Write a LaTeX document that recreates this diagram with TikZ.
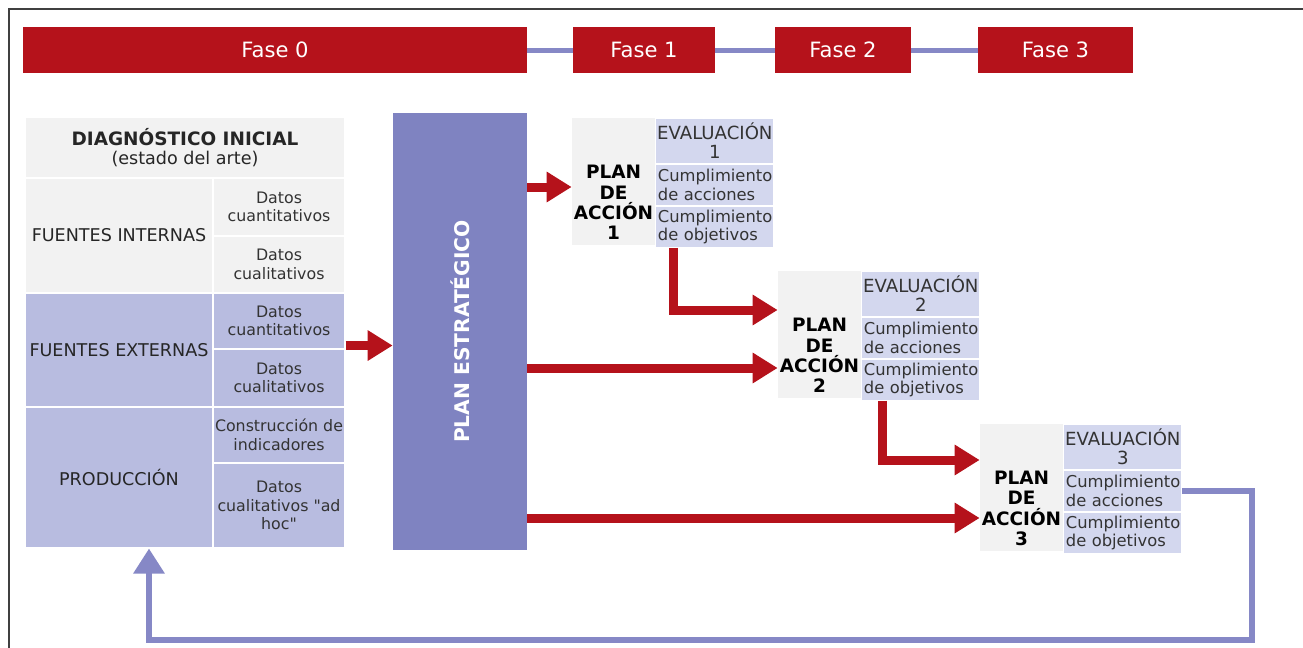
\documentclass[tikz,border=0pt]{standalone}
\usepackage{fontspec}
\setmainfont{DejaVu Sans}
\usepackage{xcolor}
\usetikzlibrary{positioning, arrows.meta}
\definecolor{faseRed}{HTML}{B5121B}
\definecolor{linkBlue}{HTML}{8688C6}
\definecolor{planBlue}{HTML}{7F83C1}
\definecolor{cellBlue}{HTML}{B8BCE0}
\definecolor{evalBlue}{HTML}{D3D7EE}
\definecolor{cellGray}{HTML}{F2F2F2}
\definecolor{textGray}{HTML}{333333}

\begin{document}
\begin{tikzpicture}[
    fase/.style={fill=faseRed, text=white, font=\fontsize{12}{14}\selectfont,
                 minimum height=0.92cm, inner sep=0pt},
    link/.style={draw=linkBlue, line width=0.1cm},
    cell/.style={draw=white, line width=0.6pt, inner sep=1pt, align=center,
                 text=textGray, font=\fontsize{9}{10.5}\selectfont},
    label/.style={cell, text=black!85, font=\fontsize{10}{12}\selectfont,
                  minimum width=3.76cm},
    datos/.style={cell, minimum width=2.64cm},
    paplan/.style={fill=cellGray, minimum width=1.66cm, minimum height=2.54cm, inner sep=0pt},
    patext/.style={align=center, font=\bfseries\fontsize{10.5}{11.5}\selectfont, inner sep=0pt},
    evtitle/.style={fill=evalBlue, draw=white, line width=0.6pt, align=center,
                    text=textGray, font=\fontsize{10.3}{10.5}\selectfont,
                    minimum width=2.36cm, minimum height=0.90cm, inner sep=0pt},
    evitem/.style={fill=evalBlue, draw=white, line width=0.6pt, align=left,
                   text=textGray, font=\fontsize{9.3}{10.5}\selectfont,
                   text width=2.28cm, inner xsep=0.04cm, inner ysep=0pt,
                   minimum height=0.82cm},
    redarrow/.style={draw=faseRed, line width=0.18cm, line join=miter,
                     -{Triangle[length=0.5cm, width=0.58cm]}},
    feedback/.style={draw=linkBlue, line width=0.12cm, line join=miter,
                     -{Triangle[length=0.5cm, width=0.6cm]}}
  ]
  \useasboundingbox (0,0) rectangle (26.06,-12.96);
  \draw[black!75, line width=0.8pt] (0.18,-12.96) -- (0.18,-0.18) -- (26.06,-0.18);

  % phases
  \node[fase, minimum width=10.08cm] (f0) at (5.50,-1.00) {Fase 0};
  \node[fase, minimum width=2.84cm] (f1) at (12.88,-1.00) {Fase 1};
  \node[fase, minimum width=2.72cm] (f2) at (16.86,-1.00) {Fase 2};
  \node[fase, minimum width=3.10cm] (f3) at (21.11,-1.00) {Fase 3};
  \draw[link] (f0) -- (f1);
  \draw[link] (f1) -- (f2);
  \draw[link] (f2) -- (f3);

  % initial diagnosis table
  \node[cell, fill=cellGray, minimum width=6.40cm, minimum height=1.22cm, text=black!85,
        font=\fontsize{10}{11}\selectfont] (diag) at (3.70,-2.95)
        {\textbf{\fontsize{10.5}{12}\selectfont DIAGNÓSTICO INICIAL}\\(estado del arte)};
  \node[label, fill=cellGray, minimum height=2.30cm] (intl) at (2.38,-4.71) {FUENTES INTERNAS};
  \node[datos, fill=cellGray, minimum height=1.16cm] (intq) at (5.58,-4.14) {Datos\\cuantitativos};
  \node[datos, fill=cellGray, minimum height=1.14cm] (intc) at (5.58,-5.29) {Datos\\cualitativos};
  \node[label, fill=cellBlue, minimum height=2.28cm] (extl) at (2.38,-7.00) {FUENTES EXTERNAS};
  \node[datos, fill=cellBlue, minimum height=1.12cm] (extq) at (5.58,-6.42) {Datos\\cuantitativos};
  \node[datos, fill=cellBlue, minimum height=1.16cm] (extc) at (5.58,-7.56) {Datos\\cualitativos};
  \node[label, fill=cellBlue, minimum height=2.82cm] (prodl) at (2.38,-9.55) {PRODUCCIÓN};
  \node[datos, fill=cellBlue, minimum height=1.12cm] (prodq) at (5.58,-8.70) {Construcción de\\indicadores};
  \node[datos, fill=cellBlue, minimum height=1.70cm] (prodc) at (5.58,-10.11)
        {Datos\\cualitativos \textquotedbl ad\\hoc\textquotedbl};

  % strategic plan (rotated: north is its left side, south its right side)
  \node[fill=planBlue, text=white, rotate=90, minimum width=8.74cm, minimum height=2.68cm,
        font=\bfseries\fontsize{11.5}{13}\selectfont] (plan) at (9.20,-6.63) {PLAN ESTRATÉGICO};

  % action plans with their evaluations
  \node[paplan] (pa1) at (12.27,-3.63) {};
  \node[patext] (pa1txt) at ([yshift=-0.42cm]pa1.center) {PLAN\\DE\\ACCIÓN\\1};
  \node[evtitle, anchor=north west] (ev1t) at (pa1.north east) {EVALUACIÓN\\1};
  \node[evitem, below=0pt of ev1t] (ev1a) {Cumplimiento\\de acciones};
  \node[evitem, below=0pt of ev1a] (ev1o) {Cumplimiento\\de objetivos};

  \node[paplan] (pa2) at (16.39,-6.69) {};
  \node[patext] (pa2txt) at ([yshift=-0.42cm]pa2.center) {PLAN\\DE\\ACCIÓN\\2};
  \node[evtitle, anchor=north west] (ev2t) at (pa2.north east) {EVALUACIÓN\\2};
  \node[evitem, below=0pt of ev2t] (ev2a) {Cumplimiento\\de acciones};
  \node[evitem, below=0pt of ev2a] (ev2o) {Cumplimiento\\de objetivos};

  \node[paplan] (pa3) at (20.43,-9.75) {};
  \node[patext] (pa3txt) at ([yshift=-0.42cm]pa3.center) {PLAN\\DE\\ACCIÓN\\3};
  \node[evtitle, anchor=north west] (ev3t) at (pa3.north east) {EVALUACIÓN\\3};
  \node[evitem, below=0pt of ev3t] (ev3a) {Cumplimiento\\de acciones};
  \node[evitem, below=0pt of ev3a] (ev3o) {Cumplimiento\\de objetivos};

  % arrows
  \coordinate (eA) at ([yshift=0.08cm]extq.south east);
  \draw[redarrow] (eA) -- (eA -| plan.north);
  \coordinate (t1) at ([yshift=-0.11cm]pa1.west);
  \coordinate (t2) at ([yshift=-0.67cm]pa2.west);
  \coordinate (t3) at ([yshift=-0.61cm]pa3.west);
  \draw[redarrow] (plan.south |- t1) -- (t1);
  \draw[redarrow] (plan.south |- t2) -- (t2);
  \draw[redarrow] (plan.south |- t3) -- (t3);
  \coordinate (s12) at ([xshift=0.36cm]ev1o.south west);
  \coordinate (e12) at ([yshift=0.49cm]pa2.west);
  \draw[redarrow] (s12) |- (e12);
  \coordinate (s23) at ([xshift=0.42cm]ev2o.south west);
  \coordinate (e23) at ([yshift=0.55cm]pa3.west);
  \draw[redarrow] (s23) |- (e23);

  % back to the diagnosis
  \coordinate (fbR) at (25.04,-12.80);
  \coordinate (fbEnd) at ([xshift=0.60cm]prodl.south);
  \draw[feedback] (ev3a.east) -| (fbR) -| (fbEnd);
\end{tikzpicture}
\end{document}
